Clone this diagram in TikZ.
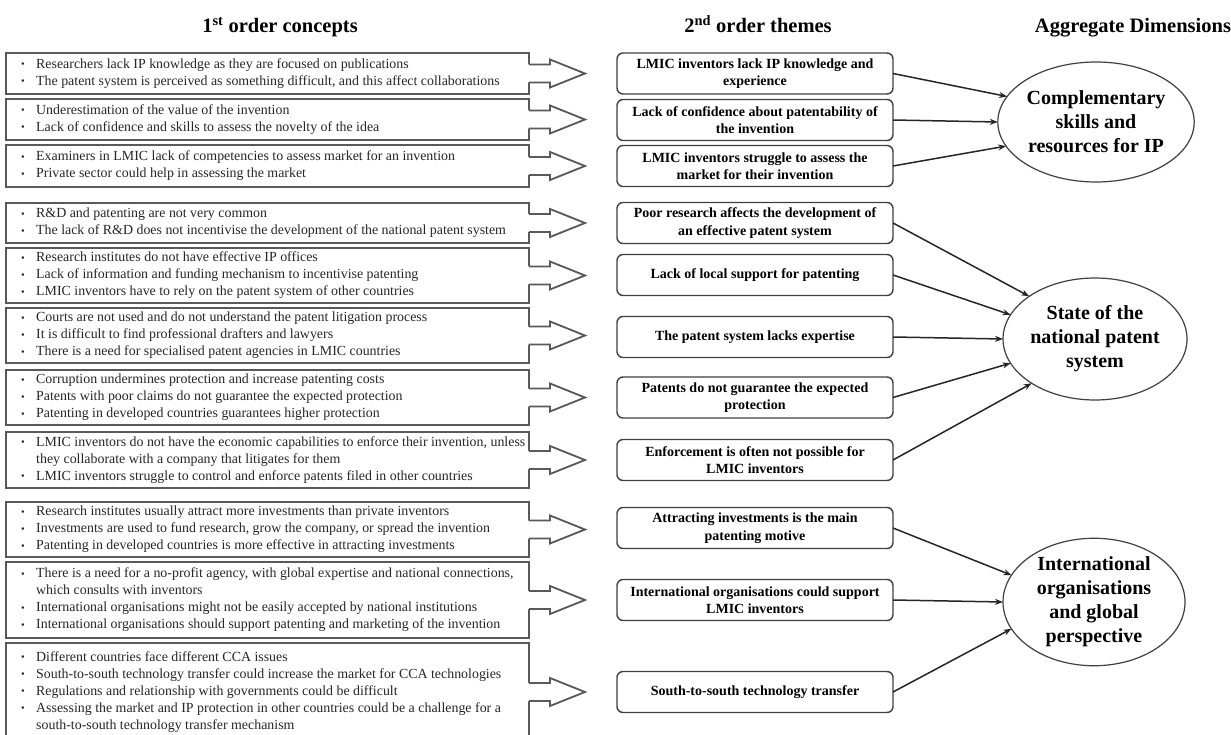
\documentclass[tikz,border=0pt]{standalone}
\usepackage{fontspec}
\setmainfont{Liberation Serif}
\usetikzlibrary{shapes.geometric,arrows.meta,calc}
\newcommand{\bl}[1]{\makebox[15pt][l]{\raisebox{0.5pt}{\scalebox{0.75}{\textbullet}}}#1}
\newcommand{\ct}[1]{\hspace*{15pt}#1}
\newcommand{\barrow}[1]{%
  \fill[white] ($(#1.east)+(-1.5,9)$) -- ($(#1.east)+(21,9)$) -- ($(#1.east)+(21,14)$) -- ($(#1.east)+(56,0)$) -- ($(#1.east)+(21,-14)$) -- ($(#1.east)+(21,-9)$) -- ($(#1.east)+(-1.5,-9)$) -- cycle;
  \draw[barr] ($(#1.east)+(0,9)$) -- ($(#1.east)+(21,9)$) -- ($(#1.east)+(21,14)$) -- ($(#1.east)+(56,0)$) -- ($(#1.east)+(21,-14)$) -- ($(#1.east)+(21,-9)$) -- ($(#1.east)+(0,-9)$);}
\begin{document}
\begin{tikzpicture}[x=1pt,y=-1pt,
  lbox/.style={draw=black!65, line width=1.8pt, minimum width=523pt, minimum height=#1, inner sep=0pt, outer sep=0pt},
  ltext/.style={anchor=west, align=left, inner sep=0pt, text=black!85, font=\fontsize{13.9}{17}\selectfont},
  barr/.style={draw=black!65, line width=1.8pt, line join=miter},
  rbox/.style={draw=black!75, line width=1.4pt, rounded corners=6pt, minimum width=276pt, minimum height=41pt, inner sep=0pt, outer sep=0pt, align=center, font=\bfseries\fontsize{14}{17.5}\selectfont},
  ell/.style={ellipse, draw=black!75, line width=1.2pt, minimum width=184pt, minimum height=120pt, inner sep=0pt, outer sep=0pt, align=center, font=\bfseries\fontsize{20}{24}\selectfont},
  title/.style={anchor=base, inner sep=0pt, font=\bfseries\fontsize{20.5}{24}\selectfont},
  conn/.style={line width=1.5pt, black!85, -{Stealth[length=8pt,width=6pt]}}]
\useasboundingbox (0,0) rectangle (1231,735);
\fill[white] (0,0) rectangle (1231,735);
\clip (0,0) rectangle (1231,735);

% titles
\node[title] (t1) at (280,33) {1\textsuperscript{st} order concepts};
\node[title] (t2) at (758,33) {2\textsuperscript{nd} order themes};
\node[title] (t3) at (1133,33) {Aggregate Dimensions};

% left boxes
\node[lbox=41pt] (L1) at (267.5,73.5) {};
\node[lbox=41pt] (L2) at (267.5,119.5) {};
\node[lbox=42pt] (L3) at (267.5,166) {};
\node[lbox=40pt] (L4) at (267.5,223) {};
\node[lbox=55pt] (L5) at (267.5,275.5) {};
\node[lbox=55pt] (L6) at (267.5,335.5) {};
\node[lbox=55pt] (L7) at (267.5,397.5) {};
\node[lbox=56pt] (L8) at (267.5,460) {};
\node[lbox=55pt] (L9) at (267.5,529.5) {};
\node[lbox=76pt] (L10) at (267.5,600) {};
\node[lbox=98pt] (L11) at (267.5,692) {};

\node[ltext] (T1) at ($(L1.west)+(15,0)$) {\bl{Researchers lack IP knowledge as they are focused on publications}\\
\bl{The patent system is perceived as something difficult, and this affect collaborations}};
\node[ltext] (T2) at ($(L2.west)+(15,0)$) {\bl{Underestimation of the value of the invention}\\
\bl{Lack of confidence and skills to assess the novelty of the idea}};
\node[ltext] (T3) at ($(L3.west)+(15,0)$) {\bl{Examiners in LMIC lack of competencies to assess market for an invention}\\
\bl{Private sector could help in assessing the market}};
\node[ltext] (T4) at ($(L4.west)+(15,0)$) {\bl{R\&D and patenting are not very common}\\
\bl{The lack of R\&D does not incentivise the development of the national patent system}};
\node[ltext] (T5) at ($(L5.west)+(15,0)$) {\bl{Research institutes do not have effective IP offices}\\
\bl{Lack of information and funding mechanism to incentivise patenting}\\
\bl{LMIC inventors have to rely on the patent system of other countries}};
\node[ltext] (T6) at ($(L6.west)+(15,0)$) {\bl{Courts are not used and do not understand the patent litigation process}\\
\bl{It is difficult to find professional drafters and lawyers}\\
\bl{There is a need for specialised patent agencies in LMIC countries}};
\node[ltext] (T7) at ($(L7.west)+(15,0)$) {\bl{Corruption undermines protection and increase patenting costs}\\
\bl{Patents with poor claims do not guarantee the expected protection}\\
\bl{Patenting in developed countries guarantees higher protection}};
\node[ltext] (T8) at ($(L8.west)+(15,0)$) {\bl{LMIC inventors do not have the economic capabilities to enforce their invention, unless}\\
\ct{they collaborate with a company that litigates for them}\\
\bl{LMIC inventors struggle to control and enforce patents filed in other countries}};
\node[ltext] (T9) at ($(L9.west)+(15,0)$) {\bl{Research institutes usually attract more investments than private inventors}\\
\bl{Investments are used to fund research, grow the company, or spread the invention}\\
\bl{Patenting in developed countries is more effective in attracting investments}};
\node[ltext] (T10) at ($(L10.west)+(15,0)$) {\bl{There is a need for a no-profit agency, with global expertise and national connections,}\\
\ct{which consults with inventors}\\
\bl{International organisations might not be easily accepted by national institutions}\\
\bl{International organisations should support patenting and marketing of the invention}};
\node[ltext] (T11) at ($(L11.west)+(15,0)$) {\bl{Different countries face different CCA issues}\\
\bl{South-to-south technology transfer could increase the market for CCA technologies}\\
\bl{Regulations and relationship with governments could be difficult}\\
\bl{Assessing the market and IP protection in other countries could be a challenge for a}\\
\ct{south-to-south technology transfer mechanism}};

% block arrows
\barrow{L1}\barrow{L2}\barrow{L3}\barrow{L4}\barrow{L5}\barrow{L6}
\barrow{L7}\barrow{L8}\barrow{L9}\barrow{L10}\barrow{L11}

% second order themes
\node[rbox] (R1) at (755,73.5) {LMIC inventors lack IP knowledge and\\experience};
\node[rbox] (R2) at (755,120) {Lack of confidence about patentability of\\the invention};
\node[rbox] (R3) at (755,166) {LMIC inventors struggle to assess the\\market for their invention};
\node[rbox] (R4) at (755,223) {Poor research affects the development of\\an effective patent system};
\node[rbox] (R5) at (755,275) {Lack of local support for patenting};
\node[rbox] (R6) at (755,337) {The patent system lacks expertise};
\node[rbox] (R7) at (755,397.5) {Patents do not guarantee the expected\\protection};
\node[rbox] (R8) at (755,460) {Enforcement is often not possible for\\LMIC inventors};
\node[rbox] (R9) at (755,528) {Attracting investments is the main\\patenting motive};
\node[rbox] (R10) at (755,600) {International organisations could support\\LMIC inventors};
\node[rbox] (R11) at (755,692) {South-to-south technology transfer};

% aggregate dimensions
\node[ell] (E1) at (1096,122) {Complementary\\skills and\\resources for IP};
\node[ell, minimum height=122pt] (E2) at (1095,339) {State of the\\national patent\\system};
\node[ell, minimum width=182pt] (E3) at (1094,602) {International\\organisations\\and global\\perspective};

% connectors
\draw[conn] (R1.east) -- (E1.164);
\draw[conn] (R2.east) -- (E1.180);
\draw[conn] (R3.east) -- (E1.195);
\draw[conn] (R4.east) -- (E2.147);
\draw[conn] (R5.east) -- (E2.164);
\draw[conn] (R6.east) -- (E2.180);
\draw[conn] (R7.east) -- (E2.196);
\draw[conn] (R8.east) -- (E2.215);
\draw[conn] (R9.east) -- (E3.162);
\draw[conn] (R10.east) -- (E3.180);
\draw[conn] (R11.east) -- (E3.198);
\end{tikzpicture}
\end{document}
